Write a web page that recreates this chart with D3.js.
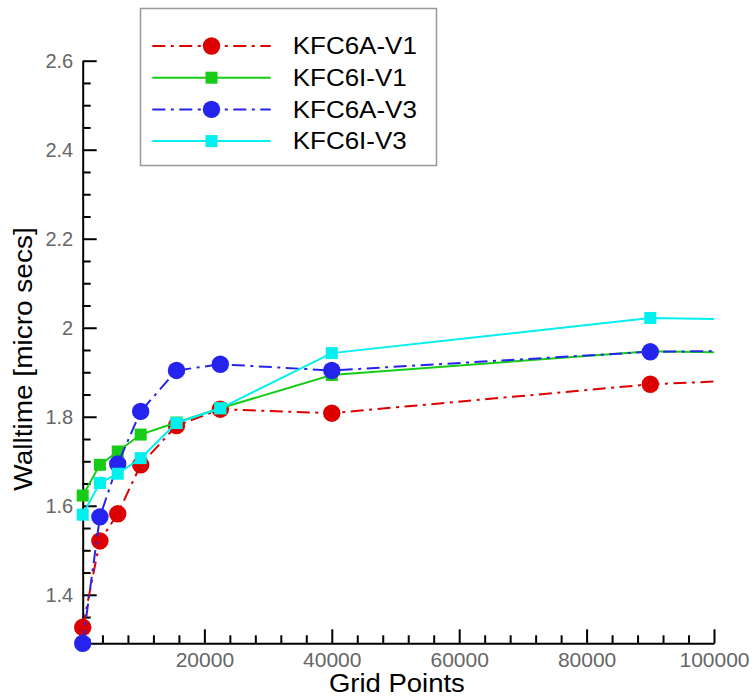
<!DOCTYPE html>
<html>
<head>
<meta charset="utf-8">
<script src="https://cdn.jsdelivr.net/npm/d3@7"></script>
<style>
  html, body { margin: 0; padding: 0; background: #fff; }
  svg { display: block; font-family: "Liberation Sans", Arial, Helvetica, sans-serif; }
</style>
</head>
<body>
<svg id="chart" width="755" height="700"></svg>
<script>
// Grid sizes (number of grid points) at which each kernel was timed
const gridPoints = [900, 3600, 6400, 10000, 15625, 22500, 40000, 90000, 160000];

// Walltime per grid point, microseconds
const kfc6aV1 = [1.327, 1.521, 1.582, 1.692, 1.780, 1.817, 1.808, 1.873, 1.915];
const kfc6iV1 = [1.623, 1.692, 1.722, 1.760, 1.787, 1.819, 1.894, 1.947, 1.931];
const kfc6aV3 = [1.291, 1.575, 1.694, 1.812, 1.904, 1.918, 1.904, 1.946, 1.957];
const kfc6iV3 = [1.580, 1.651, 1.672, 1.707, 1.786, 1.819, 1.943, 2.022, 2.006];

const seriesNames = ["KFC6A-V1", "KFC6I-V1", "KFC6A-V3", "KFC6I-V3"];

// Axis ticks
const xTickValues = [20000, 40000, 60000, 80000, 100000];
const yTickValues = [1.4, 1.6, 1.8, 2, 2.2, 2.4, 2.6];
const xDomain = [900, 100000];
const yDomain = [1.291, 2.6];

const series = [
  { name: seriesNames[0], values: kfc6aV1, color: "#dd0000", dash: "13,5.5,3,5.5", symbol: "circle" },
  { name: seriesNames[1], values: kfc6iV1, color: "#16cc16", dash: null,           symbol: "square" },
  { name: seriesNames[2], values: kfc6aV3, color: "#2424ee", dash: "13,5.5,3,5.5", symbol: "circle" },
  { name: seriesNames[3], values: kfc6iV3, color: "#00f0f0", dash: null,           symbol: "square" }
];

const svg = d3.select("#chart");

const x = d3.scaleLinear().domain(xDomain).range([82.7, 714]);
const y = d3.scaleLinear().domain(yDomain).range([643.3, 60.7]);

const CIRCLE_R = 8.7;
const SQUARE = 12;

// ---- Axes ----
const xMinor = d3.range(4000, 100000, 4000).filter(v => v % 20000 !== 0);
const yMinor = d3.range(1.30, 2.6, 0.05).map(v => +v.toFixed(2))
  .filter(v => Math.abs(Math.round(v * 5) - v * 5) > 1e-6);

const gx = svg.append("g").attr("transform", `translate(0,${y.range()[0]})`);
gx.call(d3.axisBottom(x).tickValues(xMinor).tickSizeInner(-8).tickSizeOuter(0).tickFormat(""));
gx.call(g => g.select(".domain").remove());
const gxMajor = svg.append("g").attr("transform", `translate(0,${y.range()[0]})`)
  .call(d3.axisBottom(x).tickValues(xTickValues).tickSizeInner(-14).tickSizeOuter(0)
    .tickPadding(8.5).tickFormat(d3.format("d")));

const gy = svg.append("g").attr("transform", `translate(${x.range()[0]},0)`);
gy.call(d3.axisLeft(y).tickValues(yMinor).tickSizeInner(-8).tickSizeOuter(0).tickFormat(""));
gy.call(g => g.select(".domain").remove());
const gyMajor = svg.append("g").attr("transform", `translate(${x.range()[0]},0)`)
  .call(d3.axisLeft(y).tickValues(yTickValues).tickSizeInner(-14).tickSizeOuter(0)
    .tickPadding(9.5).tickFormat(d3.format("")));

svg.selectAll(".domain, .tick line").attr("stroke", "#000").attr("stroke-width", 2);
gxMajor.selectAll(".tick text").attr("font-size", 21).attr("fill", "#666")
  .attr("font-family", "Liberation Sans, Arial, sans-serif");
gyMajor.selectAll(".tick text").attr("font-size", 20).attr("fill", "#666")
  .attr("font-family", "Liberation Sans, Arial, sans-serif");

// Axis titles
svg.append("text")
  .attr("transform", `translate(${(x.range()[0] + x.range()[1]) / 2 - 1.5},691.7) scale(1.1,1)`)
  .attr("text-anchor", "middle").attr("font-size", 25).attr("fill", "#000")
  .text("Grid Points");

svg.append("text")
  .attr("transform", "translate(31.5,359) rotate(-90) scale(1.12,1)")
  .attr("text-anchor", "middle").attr("font-size", 25).attr("fill", "#000")
  .text("Walltime [micro secs]");

// ---- Data ----
svg.append("clipPath").attr("id", "plotClip")
  .append("rect").attr("x", 0).attr("y", 0).attr("width", x.range()[1]).attr("height", 700);

const plot = svg.append("g").attr("clip-path", "url(#plotClip)");
const line = d3.line().x((d, i) => x(gridPoints[i])).y(d => y(d));

function drawSymbol(g, s, cx, cy) {
  if (s.symbol === "circle") {
    g.append("circle").attr("cx", cx).attr("cy", cy).attr("r", CIRCLE_R).attr("fill", s.color);
  } else {
    g.append("rect").attr("x", cx - SQUARE / 2).attr("y", cy - SQUARE / 2)
      .attr("width", SQUARE).attr("height", SQUARE).attr("fill", s.color);
  }
}

series.forEach(s => {
  const g = plot.append("g");
  g.append("path").datum(s.values)
    .attr("d", line)
    .attr("fill", "none")
    .attr("stroke", s.color)
    .attr("stroke-width", 2)
    .attr("stroke-dasharray", s.dash);
  s.values.forEach((v, i) => {
    if (gridPoints[i] <= xDomain[1]) drawSymbol(g, s, x(gridPoints[i]), y(v));
  });
});

// ---- Legend ----
const legend = svg.append("g");
legend.append("rect")
  .attr("x", 140.5).attr("y", 8.5).attr("width", 296).attr("height", 157)
  .attr("fill", "#fff").attr("stroke", "#999").attr("stroke-width", 1.5);

series.forEach((s, i) => {
  const ly = 46 + i * 31.7;
  const row = legend.append("g");
  row.append("line")
    .attr("x1", 152.3).attr("x2", 270.7).attr("y1", ly).attr("y2", ly)
    .attr("stroke", s.color).attr("stroke-width", 2)
    .attr("stroke-dasharray", s.dash);
  drawSymbol(row, s, 211.5, ly);
  row.append("text")
    .attr("transform", `translate(292.7,${ly + 8.2}) scale(1.13,1)`)
    .attr("font-size", 23).attr("fill", "#000")
    .text(s.name);
});
</script>
</body>
</html>
